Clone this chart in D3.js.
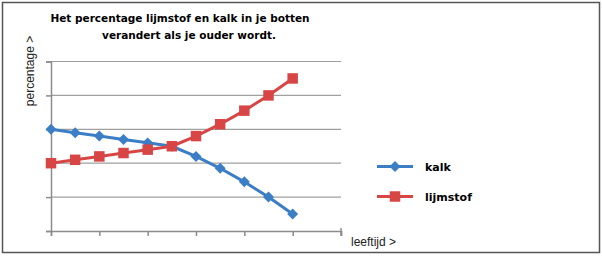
<!DOCTYPE html>
<html>
<head>
<meta charset="utf-8">
<script src="https://cdn.jsdelivr.net/npm/d3@7"></script>
<style>
  body { margin: 0; background: #fff; }
  svg text { font-family: "DejaVu Sans", Verdana, sans-serif; }
</style>
</head>
<body>
<div id="wrapper"></div>
<script>
// data (percentages, 11 age steps)
const ages = [0, 1, 2, 3, 4, 5, 6, 7, 8, 9, 10];
const kalk = [30, 29, 28, 27, 26, 25, 22, 18.5, 14.5, 10, 5];
const lijmstof = [20, 21, 22, 23, 24, 25, 28, 31.5, 35.5, 40, 45];
const yTicks = [0, 10, 20, 30, 40, 50];
const xTicks = [0, 2, 4, 6, 8, 10, 12];
const titleLines = ["Het percentage lijmstof en kalk in je botten", "verandert als je ouder wordt."];

// square-ish diamond like Excel's marker
const excelDiamond = {
  draw(context, size) {
    const r = Math.sqrt(size / 2);
    context.moveTo(0, -r);
    context.lineTo(r, 0);
    context.lineTo(0, r);
    context.lineTo(-r, 0);
    context.closePath();
  }
};

const series = [
  { name: "kalk", values: kalk, color: "#3b7ec6", symbol: excelDiamond, size: 60 },
  { name: "lijmstof", values: lijmstof, color: "#d84545", symbol: d3.symbolSquare, size: 110 }
];

let dimensions = {
  width: 602,
  height: 258,
  marginTop: 61.5,
  marginLeft: 51,
  plotWidth: 290,
  plotHeight: 169.5
};

const wrapper = d3.select("#wrapper")
  .append("svg")
    .attr("width", dimensions.width)
    .attr("height", dimensions.height);

// outer frame
wrapper.append("rect")
    .attr("x", 2.5).attr("y", 2.5)
    .attr("width", 597).attr("height", 250)
    .attr("fill", "none")
    .attr("stroke", "#555")
    .attr("stroke-width", 1.5);

const bounds = wrapper.append("g")
    .attr("transform", `translate(${dimensions.marginLeft}, ${dimensions.marginTop})`);

const xScale = d3.scaleLinear()
  .domain([0, 12])
  .range([0, dimensions.plotWidth]);

const yScale = d3.scaleLinear()
  .domain([0, 50])
  .range([dimensions.plotHeight, 0]);

// gridlines
bounds.selectAll(".grid")
    .data(yTicks.slice(1))
  .enter().append("line")
    .attr("class", "grid")
    .attr("x1", 0)
    .attr("x2", dimensions.plotWidth)
    .attr("y1", d => yScale(d))
    .attr("y2", d => yScale(d))
    .attr("stroke", "#a0a0a0")
    .attr("stroke-width", 1.2);

// axes
const yAxis = bounds.append("g")
    .call(d3.axisLeft(yScale).tickValues(yTicks).tickSize(5).tickFormat(""));
const xAxis = bounds.append("g")
    .attr("transform", `translate(0, ${dimensions.plotHeight})`)
    .call(d3.axisBottom(xScale).tickValues(xTicks).tickSize(5).tickFormat(""));
[xAxis, yAxis].forEach(ax => {
  ax.select(".domain").attr("stroke", "#8c8c8c").attr("stroke-width", 1.5);
  ax.selectAll(".tick line").attr("stroke", "#8c8c8c").attr("stroke-width", 1.5);
});
// right end tick goes up
bounds.append("line")
    .attr("x1", xScale(12)).attr("x2", xScale(12))
    .attr("y1", dimensions.plotHeight - 3).attr("y2", dimensions.plotHeight + 5)
    .attr("stroke", "#8c8c8c").attr("stroke-width", 1.5);

// lines + markers
const lineGen = d3.line()
  .x((d, i) => xScale(ages[i]))
  .y(d => yScale(d));

series.forEach(s => {
  bounds.append("path")
      .attr("d", lineGen(s.values))
      .attr("fill", "none")
      .attr("stroke", s.color)
      .attr("stroke-width", 3)
      .attr("stroke-linejoin", "round");
  bounds.selectAll(null)
      .data(s.values)
    .enter().append("path")
      .attr("d", d3.symbol().type(s.symbol).size(s.size))
      .attr("transform", (d, i) => `translate(${xScale(ages[i])}, ${yScale(d)})`)
      .attr("fill", s.color);
});

// title
wrapper.selectAll(".title")
    .data(titleLines)
  .enter().append("text")
    .attr("class", "title")
    .attr("x", (d, i) => i === 0 ? 180 : 189)
    .attr("y", (d, i) => 22 + i * 17)
    .attr("text-anchor", "middle")
    .attr("font-size", 10.5)
    .attr("font-weight", "bold")
    .text(d => d);

// axis titles
wrapper.append("text")
    .attr("transform", "translate(34, 71) rotate(-90)")
    .attr("text-anchor", "middle")
    .attr("font-size", 12)
    .style("font-family", "'Liberation Sans', Arial, sans-serif")
    .attr("fill", "#222")
    .text("percentage >");

wrapper.append("text")
    .attr("x", 351)
    .attr("y", 246)
    .attr("font-size", 12)
    .style("font-family", "'Liberation Sans', Arial, sans-serif")
    .attr("fill", "#222")
    .text("leeftijd >");

// legend
const legend = wrapper.append("g");
series.forEach((s, i) => {
  const y = 166.5 + i * 30;
  legend.append("line")
      .attr("x1", 377).attr("x2", 413)
      .attr("y1", y).attr("y2", y)
      .attr("stroke", s.color)
      .attr("stroke-width", 3);
  legend.append("path")
      .attr("d", d3.symbol().type(s.symbol).size(s.size))
      .attr("transform", `translate(395, ${y})`)
      .attr("fill", s.color);
  legend.append("text")
      .attr("x", 425)
      .attr("y", y + 4)
      .attr("font-size", 11)
      .attr("font-weight", "bold")
      .text(s.name);
});
</script>
</body>
</html>
